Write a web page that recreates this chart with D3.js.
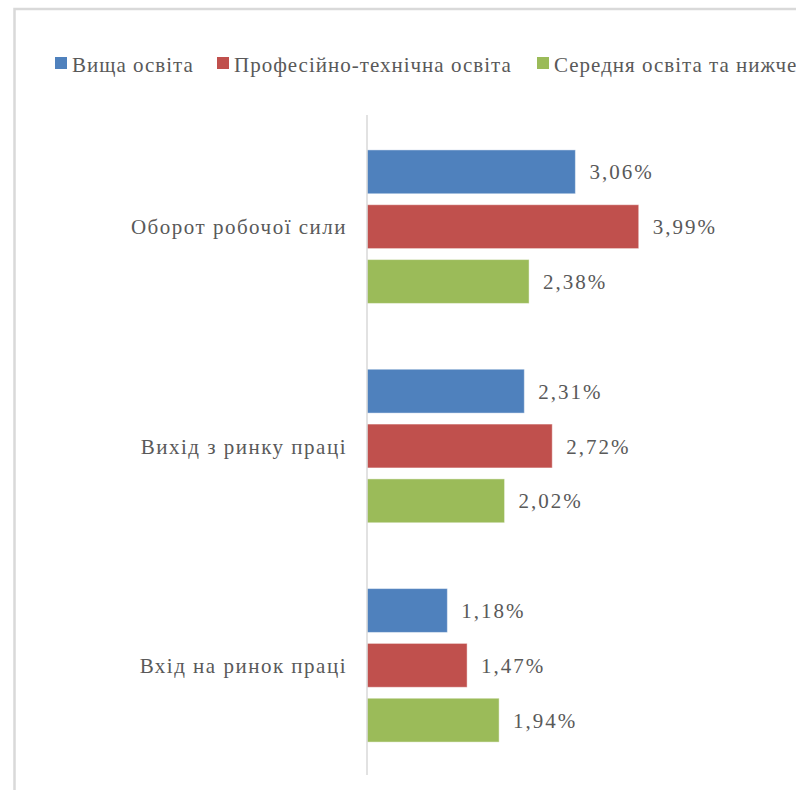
<!DOCTYPE html>
<html>
<head>
<meta charset="utf-8">
<script src="https://cdn.jsdelivr.net/npm/d3@7"></script>
<style>
  html, body { margin: 0; padding: 0; background: #fff; overflow: hidden; }
  svg { display: block; }
</style>
</head>
<body>
<svg id="chart" width="796" height="790"></svg>
<script>
// Labour-market flows by education level (% of workforce)
const categories = ["Оборот робочої сили", "Вихід з ринку праці", "Вхід на ринок праці"];
const seriesNames = ["Вища освіта", "Професійно-технічна освіта", "Середня освіта та нижче"];
const seriesColors = ["#4F81BD", "#C0504D", "#9BBB59"];
const higherEd = [3.06, 2.31, 1.18];
const vocationalEd = [3.99, 2.72, 1.47];
const secondaryEd = [2.38, 2.02, 1.94];

const seriesValues = [higherEd, vocationalEd, secondaryEd];

// Pick the first installed serif face by comparing glyph widths with a monospace fallback
function pickFont(candidates) {
  const ctx = document.createElement("canvas").getContext("2d");
  const sample = "Оборот робочої сили 3,06% Wmi";
  ctx.font = "40px monospace";
  const base = ctx.measureText(sample).width;
  for (const f of candidates) {
    ctx.font = `40px "${f}", monospace`;
    if (Math.abs(ctx.measureText(sample).width - base) > 0.5) return `"${f}", serif`;
  }
  return "serif";
}
const fontFamily = pickFont(["Liberation Serif", "Times New Roman", "Tinos", "DejaVu Serif", "Noto Serif", "FreeSerif", "Nimbus Roman"]);

const svg = d3.select("#chart");
const textColor = "#595959";

// Outer chart-area frame (extends past right/bottom edges)
svg.append("rect")
  .attr("x", 14.5).attr("y", 9)
  .attr("width", 900).attr("height", 900)
  .attr("fill", "none")
  .attr("stroke", "#d9d9d9")
  .attr("stroke-width", 2.5);

const axisX = 367;
const x = d3.scaleLinear().domain([0, 5]).range([axisX, axisX + 340.5]);
const y = d3.scaleBand().domain(categories).range([117, 775])
  .paddingInner(0.3).paddingOuter(0.15);
const yInner = d3.scaleBand().domain(seriesNames).range([0, y.bandwidth()])
  .paddingInner(0.2).paddingOuter(0);

// Bars grouped by category
const groups = svg.append("g").selectAll("g")
  .data(categories)
  .join("g")
  .attr("transform", d => `translate(0,${y(d)})`);

groups.each(function (cat, ci) {
  const g = d3.select(this);
  seriesNames.forEach((s, si) => {
    const v = seriesValues[si][ci];
    g.append("rect")
      .attr("x", x(0))
      .attr("y", yInner(s))
      .attr("width", x(v) - x(0))
      .attr("height", yInner.bandwidth())
      .attr("fill", seriesColors[si])
      .attr("stroke", "rgba(255,255,255,0.45)")
      .attr("stroke-width", 1);
    g.append("text")
      .attr("x", x(v) + 14)
      .attr("y", yInner(s) + yInner.bandwidth() / 2)
      .attr("dy", "0.36em")
      .attr("font-family", fontFamily)
      .attr("font-size", 21)
      .attr("letter-spacing", 2)
      .attr("fill", textColor)
      .text(d3.format(".2f")(v).replace(".", ",") + "%");
  });
});

// Vertical category axis
svg.append("line")
  .attr("x1", axisX).attr("x2", axisX)
  .attr("y1", 115).attr("y2", 775)
  .attr("stroke", "#d9d9d9")
  .attr("stroke-width", 1.5);

svg.append("g").selectAll("text")
  .data(categories)
  .join("text")
  .attr("x", axisX - 20)
  .attr("y", d => y(d) + y.bandwidth() / 2)
  .attr("dy", "0.36em")
  .attr("text-anchor", "end")
  .attr("font-family", fontFamily)
  .attr("font-size", 21)
  .attr("letter-spacing", 1.5)
  .attr("fill", textColor)
  .text(d => d);

// Legend
const legendX = [55, 217, 537];
const legend = svg.append("g").selectAll("g")
  .data(seriesNames)
  .join("g")
  .attr("transform", (d, i) => `translate(${legendX[i]},57)`);
legend.append("rect")
  .attr("width", 12).attr("height", 12)
  .attr("fill", (d, i) => seriesColors[i]);
legend.append("text")
  .attr("x", 17)
  .attr("y", 14.5)
  .attr("font-family", fontFamily)
  .attr("font-size", 21)
  .attr("letter-spacing", 1)
  .attr("fill", textColor)
  .text(d => d);
</script>
</body>
</html>
